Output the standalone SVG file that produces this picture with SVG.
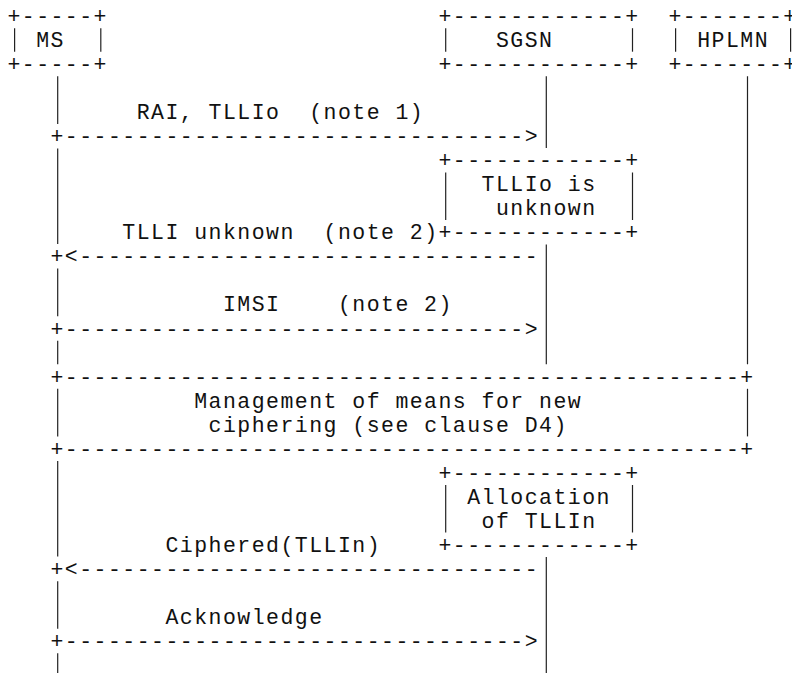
<svg xmlns="http://www.w3.org/2000/svg" width="792" height="673" viewBox="0 0 792 673" xml:space="preserve">
<style>
.t{font-family:"Liberation Mono","Courier New",monospace;font-size:21.5px;letter-spacing:1.468px;fill:#111;white-space:pre}
.ll{stroke:#222;stroke-width:1.2;fill:none}
</style>
<rect width="792" height="673" fill="#fff"/>
<g id="node-ms">
<text class="t" x="7.4" y="23">+-----+</text>
<line class="ll" x1="14.6" y1="28.2" x2="14.6" y2="51.7"/>
<text class="t" x="36.14" y="47.04">MS</text>
<line class="ll" x1="100.8" y1="28.2" x2="100.8" y2="51.7"/>
<text class="t" x="7.4" y="71.08">+-----+</text>
</g>
<g id="node-sgsn">
<text class="t" x="438.5" y="23">+------------+</text>
<line class="ll" x1="445.7" y1="28.2" x2="445.7" y2="51.7"/>
<text class="t" x="495.98" y="47.04">SGSN</text>
<line class="ll" x1="632.5" y1="28.2" x2="632.5" y2="51.7"/>
<text class="t" x="438.5" y="71.08">+------------+</text>
</g>
<g id="node-hplmn">
<text class="t" x="668.42" y="23">+-------+</text>
<line class="ll" x1="675.6" y1="28.2" x2="675.6" y2="51.7"/>
<text class="t" x="697.16" y="47.04">HPLMN</text>
<line class="ll" x1="790.6" y1="28.2" x2="790.6" y2="51.7"/>
<text class="t" x="668.42" y="71.08">+-------+</text>
</g>
<g id="node-tllio-unknown">
<text class="t" x="438.5" y="167.24">+------------+</text>
<line class="ll" x1="445.7" y1="172.5" x2="445.7" y2="220"/>
<line class="ll" x1="632.5" y1="172.5" x2="632.5" y2="220"/>
<text class="t" x="481.61" y="191.28">TLLIo is</text>
<text class="t" x="495.98" y="215.32">unknown</text>
<text class="t" x="438.5" y="239.36">+------------+</text>
</g>
<g id="node-management">
<text class="t" x="50.51" y="383.6">+-----------------------------------------------+</text>
<line class="ll" x1="57.7" y1="388.8" x2="57.7" y2="436.4"/>
<line class="ll" x1="747.5" y1="388.8" x2="747.5" y2="436.4"/>
<text class="t" x="194.21" y="407.64">Management of means for new</text>
<text class="t" x="208.58" y="431.68">ciphering (see clause D4)</text>
<text class="t" x="50.51" y="455.72">+-----------------------------------------------+</text>
</g>
<g id="node-allocation">
<text class="t" x="438.5" y="479.76">+------------+</text>
<line class="ll" x1="445.7" y1="485" x2="445.7" y2="532.5"/>
<line class="ll" x1="632.5" y1="485" x2="632.5" y2="532.5"/>
<text class="t" x="467.24" y="503.8">Allocation</text>
<text class="t" x="481.61" y="527.84">of TLLIn</text>
<text class="t" x="438.5" y="551.88">+------------+</text>
</g>
<g id="connectors">
<line class="ll" x1="57.7" y1="76.3" x2="57.7" y2="123.9"/>
<line class="ll" x1="57.7" y1="148.4" x2="57.7" y2="244.1"/>
<line class="ll" x1="57.7" y1="268.6" x2="57.7" y2="316.2"/>
<line class="ll" x1="57.7" y1="340.8" x2="57.7" y2="364.3"/>
<line class="ll" x1="57.7" y1="461" x2="57.7" y2="556.6"/>
<line class="ll" x1="57.7" y1="581.2" x2="57.7" y2="628.7"/>
<line class="ll" x1="57.7" y1="653.3" x2="57.7" y2="676.8"/>
<line class="ll" x1="546.3" y1="76.3" x2="546.3" y2="147.9"/>
<line class="ll" x1="546.3" y1="244.6" x2="546.3" y2="364.3"/>
<line class="ll" x1="546.3" y1="557.1" x2="546.3" y2="676.8"/>
<line class="ll" x1="747.5" y1="76.3" x2="747.5" y2="364.3"/>
<text class="t" x="136.73" y="119.16">RAI, TLLIo  (note 1)</text>
<text class="t" x="50.51" y="143.2">+--------------------------------&gt;</text>
<text class="t" x="122.36" y="239.36">TLLI unknown  (note 2)</text>
<text class="t" x="50.51" y="263.4">+&lt;--------------------------------</text>
<text class="t" x="222.95" y="311.48">IMSI    (note 2)</text>
<text class="t" x="50.51" y="335.52">+--------------------------------&gt;</text>
<text class="t" x="165.47" y="551.88">Ciphered(TLLIn)</text>
<text class="t" x="50.51" y="575.92">+&lt;--------------------------------</text>
<text class="t" x="165.47" y="624">Acknowledge</text>
<text class="t" x="50.51" y="648.04">+--------------------------------&gt;</text>
</g>
</svg>
